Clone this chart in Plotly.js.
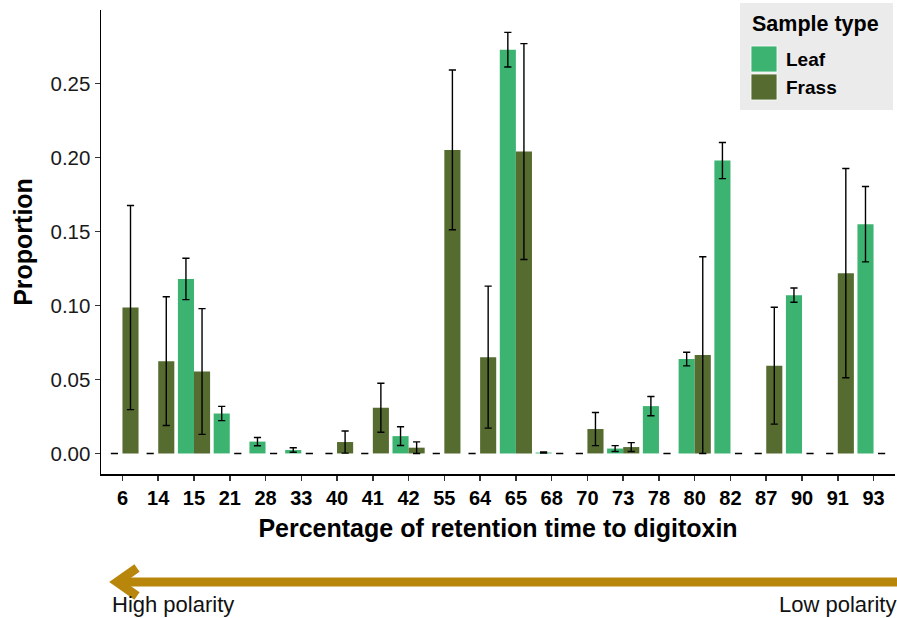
<!DOCTYPE html>
<html>
<head>
<meta charset="utf-8">
<script src="https://cdn.plot.ly/plotly-3.0.1.min.js"></script>
<style>
  html, body { margin: 0; padding: 0; background: #ffffff; }
  #chart { width: 897px; height: 618px; }
</style>
</head>
<body>
<div id="chart"></div>
<script>
// ---- data ----
var categories = ['6','14','15','21','28','33','40','41','42','55','64','65','68','70','73','78','80','82','87','90','91','93'];
var leafValues = [0, 0, 0.118, 0.027, 0.008, 0.0023, 0, 0, 0.0117, 0, 0, 0.273, 0.0006, 0, 0.0033, 0.032, 0.0638, 0.198, 0, 0.107, 0, 0.155];
var leafErrors = [0, 0, 0.014, 0.0048, 0.0028, 0.0015, 0, 0, 0.0063, 0, 0, 0.0117, 0.0004, 0, 0.002, 0.0065, 0.0046, 0.0122, 0, 0.0048, 0, 0.0255];
var frassValues = [0.0986, 0.0624, 0.0554, 0, 0, 0, 0.0077, 0.0309, 0.0039, 0.2052, 0.0651, 0.2041, 0, 0.0165, 0.0043, 0, 0.0665, 0, 0.0593, 0, 0.1219, 0];
var frassErrors = [0.069, 0.0435, 0.0425, 0, 0, 0, 0.0075, 0.0166, 0.0039, 0.054, 0.048, 0.073, 0, 0.0112, 0.003, 0, 0.0665, 0, 0.0395, 0, 0.0707, 0];
var seriesNames = ['Leaf', 'Frass'];
var yTickValues = [0, 0.05, 0.10, 0.15, 0.20, 0.25];

// ---- styling ----
var FONT = 'Liberation Sans, Arial, Helvetica, sans-serif';
var LEAF_COLOR = '#3cb371';
var FRASS_COLOR = '#556b2f';
var ARROW_COLOR = '#b8860b';

var W = 897, H = 618;
var M = {l: 101, r: 2, t: 10, b: 144};
var plotW = W - M.l - M.r, plotH = H - M.t - M.b;
function px(x) { return (x - M.l) / plotW; }
function py(y) { return (H - M.b - y) / plotH; }

function errStyle(arr) {
  return {type: 'data', array: arr, visible: true, color: '#000000', thickness: 1.4, width: 3.6};
}

var traces = [
  {type: 'bar', name: seriesNames[0], x: categories, y: leafValues,
   marker: {color: LEAF_COLOR}, error_y: errStyle(leafErrors), hoverinfo: 'skip'},
  {type: 'bar', name: seriesNames[1], x: categories, y: frassValues,
   marker: {color: FRASS_COLOR}, error_y: errStyle(frassErrors), hoverinfo: 'skip'}
];

var shapes = [
  // legend background and keys
  {type: 'rect', xref: 'paper', yref: 'paper', x0: px(740), x1: px(893), y0: py(3), y1: py(110),
   fillcolor: '#ebebeb', line: {width: 0}, layer: 'below'},
  {type: 'rect', xref: 'paper', yref: 'paper', x0: px(751), x1: px(777), y0: py(46), y1: py(72),
   fillcolor: LEAF_COLOR, line: {width: 0.8, color: '#ffffff'}},
  {type: 'rect', xref: 'paper', yref: 'paper', x0: px(751), x1: px(777), y0: py(74), y1: py(100),
   fillcolor: FRASS_COLOR, line: {width: 0.8, color: '#ffffff'}},
  // polarity arrow
  {type: 'line', xref: 'paper', yref: 'paper', x0: px(120), x1: px(897), y0: py(582), y1: py(582),
   line: {color: ARROW_COLOR, width: 9}},
  {type: 'path', xref: 'paper', yref: 'paper',
   path: 'M' + px(137) + ',' + py(568) + ' L' + px(117) + ',' + py(582) + ' L' + px(137) + ',' + py(596),
   line: {color: ARROW_COLOR, width: 9}}
];

var annotations = [
  {xref: 'paper', yref: 'paper', x: px(750), y: py(24), xanchor: 'left', yanchor: 'middle',
   text: 'Sample type', showarrow: false, font: {family: FONT, size: 21.5, color: '#000', weight: 'bold'}},
  {xref: 'paper', yref: 'paper', x: px(784), y: py(59), xanchor: 'left', yanchor: 'middle',
   text: seriesNames[0], showarrow: false, font: {family: FONT, size: 19, color: '#000', weight: 'bold'}},
  {xref: 'paper', yref: 'paper', x: px(784), y: py(87), xanchor: 'left', yanchor: 'middle',
   text: seriesNames[1], showarrow: false, font: {family: FONT, size: 19, color: '#000', weight: 'bold'}},
  {xref: 'paper', yref: 'paper', x: px(110), y: py(604), xanchor: 'left', yanchor: 'middle',
   text: 'High polarity', showarrow: false, font: {family: FONT, size: 22, color: '#111'}},
  {xref: 'paper', yref: 'paper', x: px(898), y: py(604), xanchor: 'right', yanchor: 'middle',
   text: 'Low polarity', showarrow: false, font: {family: FONT, size: 22, color: '#111'}}
];

var layout = {
  width: W, height: H,
  margin: M,
  paper_bgcolor: '#ffffff', plot_bgcolor: '#ffffff',
  barmode: 'group', bargap: 0.1, bargroupgap: 0,
  showlegend: false,
  font: {family: FONT, color: '#000'},
  xaxis: {
    type: 'category', range: [-0.6, 21.6], fixedrange: true,
    showline: true, linecolor: '#000', linewidth: 1.5,
    showgrid: false, zeroline: false,
    ticks: 'outside', ticklen: 5, tickwidth: 1.5, tickcolor: '#333',
    tickfont: {family: FONT, size: 20, color: '#000', weight: 'bold'},
    title: {text: 'Percentage of retention time to digitoxin', standoff: 12,
            font: {family: FONT, size: 25, color: '#000', weight: 'bold'}},
    automargin: false
  },
  yaxis: {
    range: [-0.0139, 0.2998], fixedrange: true,
    tickvals: yTickValues, tickformat: '.2f',
    showline: true, linecolor: '#000', linewidth: 1.5,
    showgrid: false, zeroline: false,
    ticks: 'outside', ticklen: 5, tickwidth: 1.5, tickcolor: '#333',
    tickfont: {family: FONT, size: 20.5, color: '#1a1a1a'},
    title: {text: 'Proportion', standoff: 10,
            font: {family: FONT, size: 25, color: '#000', weight: 'bold'}},
    automargin: false
  },
  shapes: shapes,
  annotations: annotations
};

Plotly.newPlot('chart', traces, layout, {staticPlot: true, displayModeBar: false});
</script>
</body>
</html>
